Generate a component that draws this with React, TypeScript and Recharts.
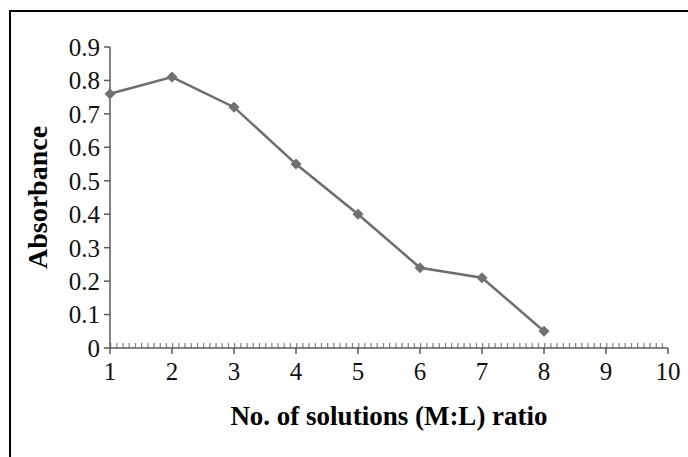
import React from "react";
import { LineChart, Line, XAxis, YAxis, ReferenceLine } from "recharts";

const solutionNo = [1, 2, 3, 4, 5, 6, 7, 8];
const absorbance = [0.76, 0.81, 0.72, 0.55, 0.4, 0.24, 0.21, 0.05];
const xTicks = [1, 2, 3, 4, 5, 6, 7, 8, 9, 10];
const yTicks = [0, 0.1, 0.2, 0.3, 0.4, 0.5, 0.6, 0.7, 0.8, 0.9];

const data = solutionNo.map((x, i) => ({ x, y: absorbance[i] }));

const FONT = "'Liberation Serif', 'Times New Roman', serif";
const AXIS = "#5a5a5a";

const Diamond = (props: any) => {
  const { cx, cy, index } = props;
  if (cx == null || cy == null) return null;
  const r = 5;
  return (
    <path
      key={`d-${index}`}
      d={`M${cx},${cy - r}L${cx + r},${cy}L${cx},${cy + r}L${cx - r},${cy}Z`}
      fill="#707070"
      stroke="#707070"
      strokeWidth={1}
    />
  );
};

const MinorTicks = (props: any) => {
  const { x1, y1, x2 } = props;
  if (x1 == null) return null;
  return (
    <line
      x1={x1}
      y1={y1 - 2.5}
      x2={x2}
      y2={y1 - 2.5}
      stroke="#8a8a8a"
      strokeWidth={5}
      strokeDasharray="1.3 4.9"
    />
  );
};

export default function App() {
  return (
    <div
      style={{
        position: "absolute",
        left: 0,
        top: 0,
        width: 688,
        height: 457,
        overflow: "hidden",
        background: "#fff",
      }}
    >
      <div
        style={{
          position: "absolute",
          left: 9,
          top: 10,
          width: 720,
          height: 480,
          border: "2px solid #000",
          boxSizing: "border-box",
        }}
      />
      <div style={{ position: "absolute", left: 0, top: 0 }}>
        <LineChart
          width={688}
          height={457}
          data={data}
          margin={{ top: 47, right: 20, bottom: 32, left: 0 }}
        >
          <XAxis
            dataKey="x"
            type="number"
            domain={[1, 10]}
            ticks={xTicks}
            interval={0}
            height={77}
            stroke={AXIS}
            strokeWidth={1.5}
            tickSize={6}
            tickMargin={8}
            tick={{ fill: "#111", fontSize: 25, fontFamily: FONT }}
            tickLine={{ stroke: AXIS, strokeWidth: 1.5 }}
            label={{
              value: "No. of solutions (M:L) ratio",
              position: "insideBottom",
              offset: 0,
              style: {
                fontFamily: FONT,
                fontWeight: "bold",
                fontSize: 27,
                fill: "#000",
              },
            }}
          />
          <YAxis
            type="number"
            domain={[0, 0.9]}
            ticks={yTicks}
            interval={0}
            width={110}
            stroke={AXIS}
            strokeWidth={1.5}
            tickSize={6}
            tickMargin={4}
            tick={{ fill: "#111", fontSize: 25, fontFamily: FONT }}
            tickLine={{ stroke: AXIS, strokeWidth: 1.5 }}
            label={{
              value: "Absorbance",
              angle: -90,
              position: "insideLeft",
              offset: 37,
              style: {
                textAnchor: "middle",
                fontFamily: FONT,
                fontWeight: "bold",
                fontSize: 28,
                fill: "#000",
              },
            }}
          />
          <ReferenceLine y={0} shape={MinorTicks} />
          <Line
            type="linear"
            dataKey="y"
            stroke="#6e6e6e"
            strokeWidth={2.5}
            dot={Diamond}
            activeDot={false}
            isAnimationActive={false}
          />
        </LineChart>
      </div>
    </div>
  );
}
